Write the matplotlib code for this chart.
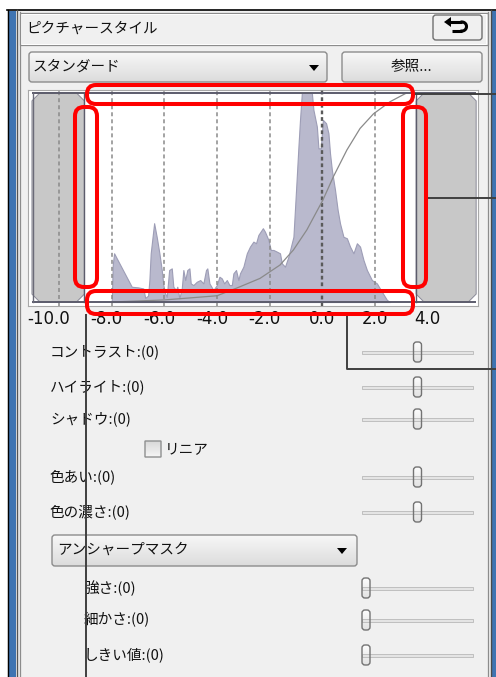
import numpy as np
import matplotlib.pyplot as plt
from matplotlib.patches import FancyBboxPatch, Rectangle, Polygon
from matplotlib.colors import LinearSegmentedColormap
from matplotlib.transforms import ScaledTranslation

plt.rcParams['font.family'] = ['Noto Sans CJK JP', 'DejaVu Sans']

# histogram (EV on x, height as fraction of the panel)
hist_x = [-8.00, -7.96, -7.91, -7.24, -7.00, -6.80, -6.73, -6.62, -6.57, -6.52,
          -6.39, -6.29, -6.19, -6.10, -6.04, -5.97, -5.91, -5.82, -5.72, -5.66,
          -5.56, -5.51, -5.43, -5.34, -5.28, -5.21, -5.13, -5.05, -5.00, -4.90,
          -4.77, -4.64, -4.52, -4.42, -4.37, -4.29, -4.14, -4.01, -3.91, -3.82,
          -3.73, -3.63, -3.53, -3.44, -3.38, -3.28, -3.19, -3.13, -3.00, -2.87,
          -2.75, -2.62, -2.52, -2.43, -2.26, -2.18, -2.05, -1.96, -1.86, -1.73,
          -1.61, -1.54, -1.42, -1.29, -1.10, -1.00, -0.91, -0.85, -0.78, -0.40,
          -0.34, -0.21, -0.15, -0.06, 0.02, 0.14, 0.23, 0.29, 0.36, 0.48,
          0.58, 0.67, 0.80, 0.93, 1.05, 1.18, 1.31, 1.43, 1.56, 1.69,
          1.88, 2.07, 2.26, 2.45, 2.57]
hist_h = [0.00, 0.18, 0.233, 0.073, 0.07, 0.065, 0.02, 0.03, 0.105, 0.233,
          0.377, 0.31, 0.233, 0.153, 0.081, 0.041, 0.025, 0.153, 0.161, 0.073,
          0.057, 0.073, 0.018, 0.066, 0.153, 0.105, 0.153, 0.161, 0.089, 0.081,
          0.097, 0.105, 0.089, 0.153, 0.161, 0.089, 0.057, 0.081, 0.121, 0.113,
          0.089, 0.105, 0.081, 0.081, 0.137, 0.153, 0.105, 0.137, 0.169, 0.233,
          0.265, 0.289, 0.281, 0.321, 0.353, 0.336, 0.297, 0.249, 0.249, 0.241,
          0.233, 0.185, 0.169, 0.217, 0.312, 0.536, 0.743, 0.871, 1.0, 1.0,
          0.919, 0.839, 0.735, 0.735, 0.871, 0.855, 0.807, 0.711, 0.632, 0.536,
          0.440, 0.376, 0.312, 0.305, 0.265, 0.233, 0.281, 0.265, 0.201, 0.153,
          0.105, 0.089, 0.049, 0.010, 0.0]

# tone curve
curve_x = [-8.0, -6.0, -5.0, -4.0, -3.13, -2.37, -1.61, -1.10, -0.59, 0.02,
           0.42, 0.93, 1.43, 1.94, 2.57, 3.2]
curve_y = [0.0, 0.01, 0.02, 0.03, 0.073, 0.113, 0.177, 0.249, 0.345, 0.488,
           0.60, 0.727, 0.83, 0.90, 0.958, 1.0]

tick_vals = [-10, -8, -6, -4, -2, 0, 2, 4]
tick_labels = ['-10.0', '-8.0', '-6.0', '-4.0', '-2.0', '0.0', '2.0', '4.0']
grid_vals = [-10, -8, -6, -4, -2, 0, 2]

title = 'ピクチャースタイル'
style_name = 'スタンダード'
browse_label = '参照...'
tone_labels = ['コントラスト:(0)', 'ハイライト:(0)', 'シャドウ:(0)']
tone_values = [0, 0, 0]
linear_label = 'リニア'
color_labels = ['色あい:(0)', '色の濃さ:(0)']
color_values = [0, 0]
sharp_mode = 'アンシャープマスク'
sharp_labels = ['強さ:(0)', '細かさ:(0)', 'しきい値:(0)']
sharp_values = [0, 0, 0]

W, H = 496, 677
fig = plt.figure(figsize=(W / 100, H / 100), dpi=100)

# ---- background window (pixel coordinates) ----
ui = fig.add_axes([0, 0, 1, 1])
ui.set_zorder(0)
ui.axis('off')
ui.add_patch(Rectangle((0, 0), W, H, fc='white', ec='none', zorder=0))
ui.add_patch(Rectangle((7, 10), W - 7, H - 10, fc='#f0f0f0', ec='none', zorder=0))


def gbox(x0, y0, x1, y1, top='#f7f7f7', bottom='#dcdcdc', edge='#8c8c8c', r=3, lw=1.0):
    patch = FancyBboxPatch((x0, y0), x1 - x0, y1 - y0,
                           boxstyle=f'round,pad=0,rounding_size={r}',
                           fc='none', ec=edge, lw=lw, zorder=3)
    ui.add_patch(patch)
    cmap = LinearSegmentedColormap.from_list('g', [top, bottom])
    im = ui.imshow(np.linspace(0, 1, 32).reshape(-1, 1), cmap=cmap,
                   extent=(x0, x1, y1, y0), aspect='auto', zorder=2)
    im.set_clip_path(patch)


# window borders
ui.plot([7, W], [10, 10], color='black', lw=1.2, zorder=4)
ui.plot([7.5, 7.5], [10, H], color='black', lw=1.0, zorder=4)
ui.add_patch(Rectangle((8.5, 10.5), 7, H, fc='#3f74b2', ec='none', zorder=3))
ui.add_patch(Rectangle((491, 10.5), 6, H, fc='#3f74b2', ec='none', zorder=3))
ui.plot([16.5, 16.5], [10, H], color='#555555', lw=1.0, zorder=4)
ui.plot([490.5, 490.5], [10, H], color='#4a4a4a', lw=1.0, zorder=4)
ui.plot([19.5, 19.5], [12, H], color='#8c8c8c', lw=0.9, zorder=4)
ui.plot([487.5, 487.5], [12, H], color='#8c8c8c', lw=0.9, zorder=4)

# title bar
ui.add_patch(Rectangle((19.5, 12.5), 468, 32.5, fc='#f0f0f0', ec='#8c8c8c', lw=0.9, zorder=3))
ui.add_patch(Rectangle((21, 14), 465, 29.5, fc='none', ec='white', lw=0.7, zorder=3))
ui.text(26, 29, title, fontsize=10.5, va='center', ha='left', color='#111111', zorder=5)
gbox(433, 15, 482, 40, edge='#707070')
ui.plot([450, 462], [22, 22], color='black', lw=2.2, zorder=5, solid_capstyle='butt')
ang = np.linspace(-np.pi / 2, np.pi / 2, 30)
ui.plot(462 + 4.5 * np.cos(ang), 26.5 + 4.5 * np.sin(ang), color='black', lw=2.2, zorder=5)
ui.plot([462, 452], [31, 31], color='black', lw=2.2, zorder=5, solid_capstyle='butt')
ui.add_patch(Polygon([[444, 22], [451, 17], [451, 27]], closed=True, fc='black', ec='none', zorder=5))

# style combo and browse button
gbox(29, 52, 327, 82)
ui.text(33, 67, style_name, fontsize=10.5, va='center', ha='left', color='#111111', zorder=5)
ui.add_patch(Polygon([[309, 65], [319, 65], [314, 71]], closed=True, fc='black', ec='none', zorder=5))
gbox(342, 52, 482, 82)
ui.text(412, 67, browse_label, fontsize=10.5, va='center', ha='center', color='#111111', zorder=5)


def slider(y, value, vmin, vmax):
    x0, x1 = 362, 473
    ui.add_patch(Rectangle((x0, y - 1.5), x1 - x0, 3, fc='#e4e4e4', ec='#b8b8b8', lw=0.6, zorder=3))
    tx = x0 + 4 + (value - vmin) / (vmax - vmin) * (x1 - x0 - 8)
    gbox(tx - 4, y - 10, tx + 4, y + 10, top='#fdfdfd', bottom='#e2e2e2', edge='#737373', r=3)


rows_tone = [352, 387, 419]
for lab, val, y in zip(tone_labels, tone_values, rows_tone):
    ui.text(50, y, lab, fontsize=10.5, va='center', ha='left', color='#111111', zorder=5)
    slider(y, val, -4, 4)

gbox(145, 441, 161, 457, top='#d8d8d8', bottom='#f6f6f6', edge='#8e8f8f', r=0)
ui.text(165, 449, linear_label, fontsize=10.5, va='center', ha='left', color='#111111', zorder=5)

rows_color = [477, 512]
for lab, val, y in zip(color_labels, color_values, rows_color):
    ui.text(50, y, lab, fontsize=10.5, va='center', ha='left', color='#111111', zorder=5)
    slider(y, val, -4, 4)

gbox(52, 535, 357, 566)
ui.text(57, 550, sharp_mode, fontsize=10.5, va='center', ha='left', color='#111111', zorder=5)
ui.add_patch(Polygon([[337, 548], [347, 548], [342, 554]], closed=True, fc='black', ec='none', zorder=5))

rows_sharp = [588, 620, 655]
for lab, val, y in zip(sharp_labels, sharp_values, rows_sharp):
    ui.text(84, y, lab, fontsize=10.5, va='center', ha='left', color='#111111', zorder=5)
    slider(y, val, 0, 7)

ui.set_xlim(0, W)
ui.set_ylim(H, 0)

# ---- histogram panel ----
ax = fig.add_axes([28 / W, 1 - 306 / H, 450 / W, 216 / H])
ax.set_zorder(1)
ax.set_facecolor('white')
ax.set_xlim(-11.18, 5.91)
ax.set_ylim(-0.019, 1.014)
for s in ax.spines.values():
    s.set_color('#a8a8a8')
    s.set_linewidth(0.8)

cx, cy = 0.30, 0.038
for x0, x1 in [(-11.03, -9.04), (3.56, 5.84)]:
    pts = [(x0, cy), (x0 + cx, 0), (x1 - cx, 0), (x1, cy),
           (x1, 1 - cy), (x1 - cx, 1), (x0 + cx, 1), (x0, 1 - cy)]
    ax.add_patch(Polygon(pts, closed=True, fc='#c8c8c8', ec='#8a8a98', lw=0.7, zorder=1))

ax.fill_between(hist_x, hist_h, 0, color='#b9b9cd', lw=0.8, edgecolor='#9d9db6', zorder=2)

for g in grid_vals:
    if g == 0:
        ax.axvline(g, color='#5a5a5a', lw=1.7, ls=(0, (1.6, 1.2)), zorder=3)
    else:
        ax.axvline(g, color='#8a8a8a', lw=1.1, ls=(0, (2.6, 2.0)), zorder=3)

ax.plot(curve_x, curve_y, color='#8a8a8a', lw=0.9, zorder=4)

ax.plot([-11.03, 5.84], [1, 1], color='#5c5c6c', lw=1.4, zorder=5, solid_capstyle='butt')
ax.plot([-11.03, 5.84], [0, 0], color='#5c5c6c', lw=1.4, zorder=5, solid_capstyle='butt')
for xv, c in [(-11.0, '#6a6a78'), (-9.04, '#5c5c6c'), (3.56, '#5c5c6c')]:
    ax.plot([xv, xv], [0, 1], color=c, lw=1.0, zorder=5)

ax.set_yticks([])
ax.set_xticks(tick_vals)
ax.set_xticklabels(tick_labels, fontsize=12, family='DejaVu Sans', color='#111111')
ax.tick_params(axis='x', length=0, pad=3)
for lbl in ax.get_xticklabels():
    shift = -(len(lbl.get_text()) - 3) * 5 / 100
    lbl.set_transform(lbl.get_transform() + ScaledTranslation(shift, 0, fig.dpi_scale_trans))

# ---- annotation overlay ----
ov = fig.add_axes([0, 0, 1, 1])
ov.set_zorder(3)
ov.patch.set_alpha(0)
ov.axis('off')
ov.set_xlim(0, W)
ov.set_ylim(H, 0)

for x0, y0, x1, y1 in [(87, 85, 413, 104), (75, 107, 97, 287),
                       (403, 107, 426, 287), (87, 291, 413, 314)]:
    ov.add_patch(FancyBboxPatch((x0, y0), x1 - x0, y1 - y0,
                                boxstyle='round,pad=0,rounding_size=9',
                                fc='none', ec='#ff0000', lw=2.9, zorder=5))

line_kw = dict(color='#404040', lw=1.4, zorder=4, solid_capstyle='butt')
ov.plot([413, W], [94, 94], **line_kw)
ov.plot([426, W], [198, 198], **line_kw)
ov.plot([347, 347, W], [314, 369, 369], **line_kw)
ov.plot([86, 86], [314, H], **line_kw)

fig.savefig('out.png', dpi=100)
